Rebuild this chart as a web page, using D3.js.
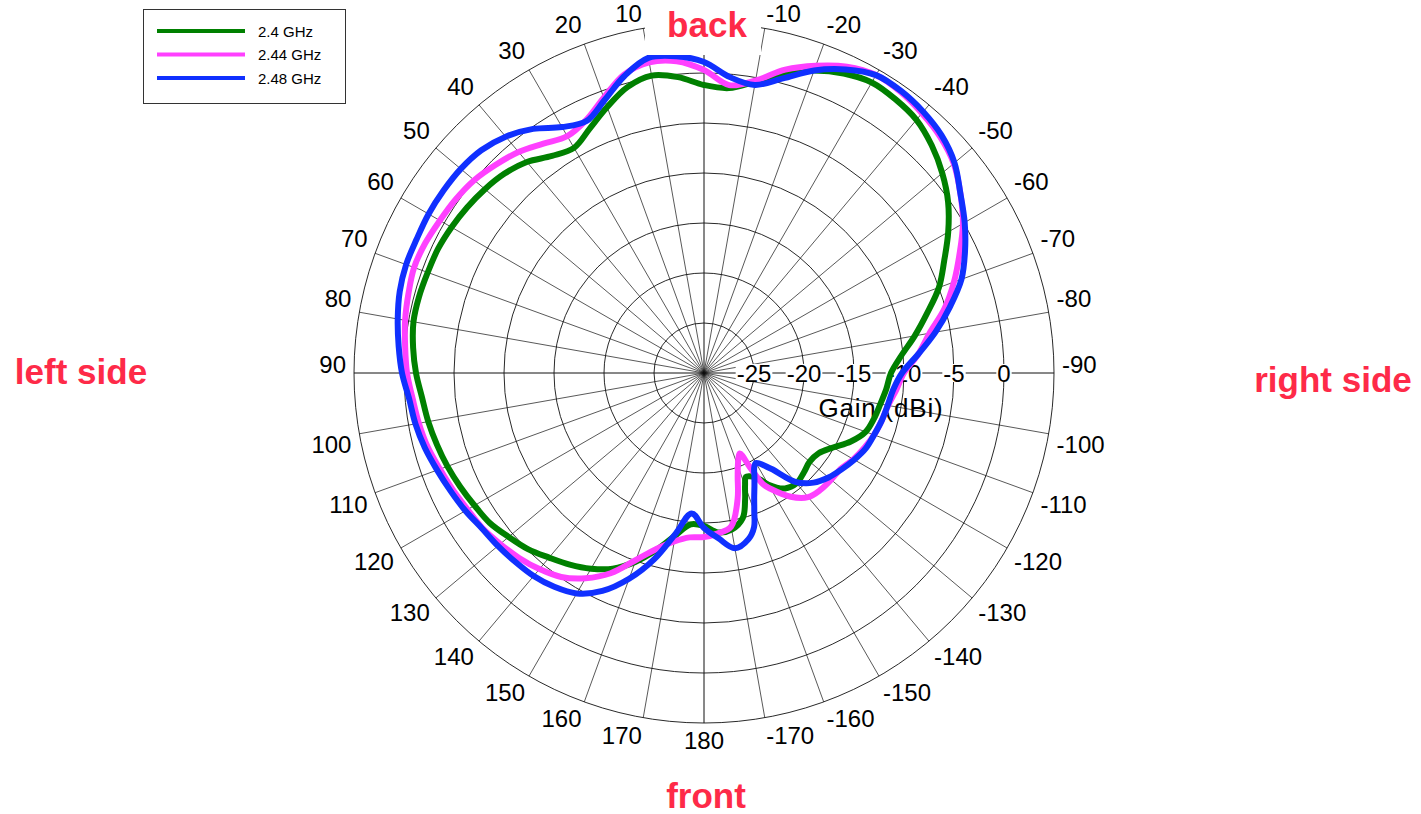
<!DOCTYPE html>
<meta charset="utf-8">
<style>
body { margin: 0; background-color: white; }
text { font-family: "Liberation Sans", Arial, sans-serif; }
</style>
<svg id="chart"></svg>
<script src="https://cdn.jsdelivr.net/npm/d3@7"></script>
<script>
// angle in degrees, positive = counter-clockwise from the top ("back")
var angles = [0, 5, 10, 15, 20, 25, 30, 35, 40, 45,
  50, 55, 60, 65, 70, 75, 80, 85, 90, 95,
  100, 105, 110, 115, 120, 125, 130, 135, 140, 145,
  150, 155, 160, 165, 170, 175, 180, -175, -170, -165,
  -162, -160, -158, -156, -154, -152, -150, -145, -140, -135,
  -130, -125, -120, -115, -110, -105, -100, -95, -90, -85,
  -80, -75, -70, -65, -60, -55, -50, -45, -40, -35,
  -30, -25, -20, -15, -10, -5];

// gain in dBi, one value per angle
var gain24 = [-1.2, -0.3, 0.2, -0.4, -1.7, -3.0, -4.0, -3.5, -2.45, -1.8,
  -1.4, -1.1, -0.85, -0.65, -0.6, -0.5, -0.5, -0.8, -1.2, -1.7,
  -2.0, -2.35, -2.7, -3.1, -3.5, -3.85, -4.5, -5.1, -5.9, -6.6,
  -7.4, -8.4, -9.9, -11.7, -13.5, -14.8, -14.7, -14.0, -14.1, -15.0,
  -16.7, -18.0, -18.8, -18.7, -18.4, -17.9, -17.1, -15.9, -15.6, -15.9,
  -16.2, -16.0, -15.1, -13.8, -12.8, -12.4, -12.1, -11.7, -11.3, -10.2,
  -8.6, -6.9, -5.0, -3.5, -1.8, -0.2, 1.1, 2.2, 3.05, 3.4,
  3.55, 3.05, 2.2, 1.05, -0.4, -1.4];

var gain244 = [0.3, 1.3, 1.55, 0.9, -0.7, -2.1, -2.65, -2.0, -1.15, -0.55,
  0.0, 0.3, 0.5, 0.75, 0.85, 0.6, 0.35, 0.0, -0.3, -0.75,
  -1.05, -1.4, -1.9, -2.3, -2.7, -2.95, -3.4, -3.85, -4.4, -5.1,
  -6.3, -7.9, -10.1, -11.8, -12.9, -13.5, -13.6, -13.9, -14.4, -17.0,
  -19.1, -20.1, -20.8, -21.2, -19.5, -17.4, -16.6, -14.9, -13.8, -13.5,
  -13.4, -13.3, -12.75, -12.3, -11.9, -11.6, -11.3, -10.7, -10.0, -8.5,
  -7.1, -5.1, -3.4, -1.8, -0.1, 1.3, 2.6, 3.4, 3.9, 4.3,
  4.4, 3.8, 2.7, 1.4, -0.3, -1.1];

var gain248 = [1.1, 1.8, 2.0, 0.75, -0.95, -2.2, -1.6, -0.2, 0.85, 1.5,
  1.75, 1.8, 1.8, 1.7, 1.7, 1.5, 1.1, 0.65, 0.2, -0.4,
  -0.7, -1.1, -1.6, -2.05, -2.45, -2.9, -3.1, -3.3, -3.5, -3.9,
  -4.55, -5.95, -8.1, -10.7, -13.7, -15.9, -14.5, -13.4, -12.2, -12.8,
  -13.8, -15.3, -16.6, -17.6, -18.5, -19.3, -19.6, -18.3, -15.8, -14.5,
  -13.75, -13.2, -12.65, -12.15, -11.9, -11.6, -11.35, -11.0, -10.2, -8.5,
  -6.5, -4.55, -2.6, -1.2, 0.1, 1.3, 2.7, 3.6, 4.1, 4.4,
  4.4, 3.5, 2.2, 0.5, -0.75, -0.3];

var seriesNames = ["2.4 GHz", "2.44 GHz", "2.48 GHz"];
var seriesColors = ["#008000", "#ff40ff", "#1030ff"];

var ringLevels = [-25, -20, -15, -10, -5, 0, 5];
var radialTicks = [-25, -20, -15, -10, -5, 0];
var spokeAngles = [0, 10, 20, 30, 40, 50, 60, 70, 80, 90, 100, 110, 120, 130, 140, 150, 160, 170, 180,
  -170, -160, -150, -140, -130, -120, -110, -100, -90, -80, -70, -60, -50, -40, -30, -20, -10];

var sideLabels = [
  {text: "back", x: 707, y: 37},
  {text: "front", x: 706, y: 808},
  {text: "left side", x: 81, y: 384},
  {text: "right side", x: 1333, y: 392}
];
</script>

<script>
var w = 1421, h = 814;
var cx = 704, cy = 373;

var svg = d3.select('#chart').attr('width', w).attr('height', h);

// -30 dB at the centre, +5 dB on the outer ring
var rScale = d3.scaleLinear().domain([-30, 5]).range([0, 350]);
// degrees ccw -> d3 radians (clockwise from 12 o'clock)
var aScale = d3.scaleLinear().domain([0, 360]).range([0, -2 * Math.PI]);
var outerR = rScale(5);

var plot = svg.append('g').attr('transform', 'translate(' + cx + ',' + cy + ')');

// rings
plot.selectAll('circle.ring')
  .data(ringLevels)
  .enter()
  .append('circle')
  .attr('class', 'ring')
  .attr('r', function (d) { return rScale(d); })
  .attr('fill', 'none')
  .attr('stroke', '#111')
  .attr('stroke-width', 0.9);

// spokes
plot.selectAll('line.spoke')
  .data(spokeAngles)
  .enter()
  .append('line')
  .attr('class', 'spoke')
  .attr('x1', 0)
  .attr('y1', 0)
  .attr('x2', function (d) { return outerR * Math.sin(aScale(d)); })
  .attr('y2', function (d) { return -outerR * Math.cos(aScale(d)); })
  .attr('stroke', '#111')
  .attr('stroke-width', function (d) { return d % 90 == 0 ? 1 : 0.7; });

// angle labels, corner nearest the centre sits on a circle just outside the rim
var labelR = 358;
plot.selectAll('text.angle')
  .data(spokeAngles.filter(function (d) { return d != 0; }))
  .enter()
  .append('text')
  .attr('class', 'angle')
  .attr('font-size', '24px')
  .attr('fill', '#000')
  .attr('x', function (d) { return labelR * Math.sin(aScale(d)); })
  .attr('y', function (d) {
    var c = Math.cos(aScale(d));
    var y = -labelR * c;
    if (c > 0.01) return Math.max(y - 4, 22 - cy); // keep top labels inside the page
    if (c < -0.01) return y + 18;
    return y;
  })
  .attr('text-anchor', function (d) {
    var s = Math.sin(aScale(d));
    if (s < -0.01) return 'end';
    if (s > 0.01) return 'start';
    return 'middle';
  })
  .text(function (d) { return d; });

// radial tick labels on the -90 line, white boxes behind
var tickG = plot.selectAll('g.rtick')
  .data(radialTicks)
  .enter()
  .append('g')
  .attr('class', 'rtick')
  .attr('transform', function (d) { return 'translate(' + rScale(d) + ',0)'; });
tickG.append('text')
  .attr('text-anchor', 'middle')
  .attr('font-size', '24px')
  .attr('y', 8.5)
  .text(function (d) { return d; });
tickG.each(function () {
  var t = d3.select(this).select('text');
  var b = t.node().getBBox();
  d3.select(this).insert('rect', 'text')
    .attr('x', b.x - 1).attr('y', -9)
    .attr('width', b.width + 2).attr('height', 18)
    .attr('fill', 'white');
});

plot.append('text')
  .attr('x', 177)
  .attr('y', 44)
  .attr('text-anchor', 'middle')
  .attr('font-size', '26px')
  .attr('letter-spacing', '0.8px')
  .text('Gain (dBi)');

// white patch behind "back" (hides the rim there)
svg.append('rect')
  .attr('x', 645).attr('y', 0)
  .attr('width', 116).attr('height', 55)
  .attr('fill', 'white');

// curves
var series = [gain24, gain244, gain248];
var radial = d3.lineRadial()
  .angle(function (d, i) { return aScale(angles[i]); })
  .radius(function (d) { return rScale(d); })
  .curve(d3.curveCatmullRomClosed.alpha(0.5));

plot.selectAll('path.gain')
  .data(series)
  .enter()
  .append('path')
  .attr('class', 'gain')
  .attr('d', function (d) { return radial(d); })
  .attr('fill', 'none')
  .attr('stroke', function (d, i) { return seriesColors[i]; })
  .attr('stroke-width', 6)
  .attr('stroke-linejoin', 'round');

// side labels
svg.selectAll('text.side')
  .data(sideLabels)
  .enter()
  .append('text')
  .attr('class', 'side')
  .attr('x', function (d) { return d.x; })
  .attr('y', function (d) { return d.y; })
  .attr('text-anchor', 'middle')
  .attr('font-size', '35px')
  .attr('font-weight', 'bold')
  .attr('fill', '#fe2a48')
  .text(function (d) { return d.text; });

// legend
var legend = svg.append('g');
legend.append('rect')
  .attr('x', 143.5).attr('y', 9.5)
  .attr('width', 202).attr('height', 94)
  .attr('fill', 'white')
  .attr('stroke', '#333')
  .attr('stroke-width', 1);
var item = legend.selectAll('g.item')
  .data(seriesNames)
  .enter()
  .append('g')
  .attr('class', 'item')
  .attr('transform', function (d, i) { return 'translate(0,' + (31 + i * 23.5) + ')'; });
item.append('line')
  .attr('x1', 157).attr('x2', 245)
  .attr('stroke', function (d, i) { return seriesColors[i]; })
  .attr('stroke-width', 4);
item.append('text')
  .attr('x', 258)
  .attr('y', 5.5)
  .attr('font-size', '15px')
  .text(function (d) { return d; });
</script>
